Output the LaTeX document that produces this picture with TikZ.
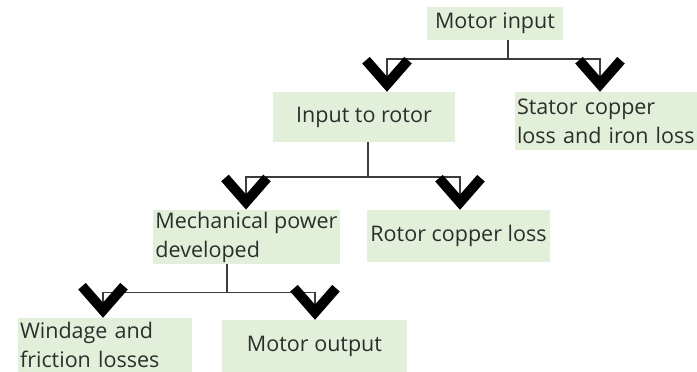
\documentclass[tikz,border=0pt]{standalone}
\usepackage{fontspec}
\setmainfont{Open Sans}
\usetikzlibrary{arrows.meta}
\definecolor{boxGreen}{RGB}{226,240,217}
\definecolor{textGray}{RGB}{45,45,45}
\definecolor{lineGray}{RGB}{60,60,60}

\begin{document}
\begin{tikzpicture}[
    x=1pt, y=-1pt,
    box/.style={rectangle, fill=boxGreen, text=textGray, inner sep=2pt, font=\fontsize{21.5}{29}\selectfont},
    conn/.style={draw=lineGray, line width=1.5pt, -{Straight Barb[length=24pt, width=42pt, line width=10pt, color=black]}}
]
    \useasboundingbox (0,0) rectangle (697,372);

    \node[box, minimum width=136pt, minimum height=33pt] (motorin) at (495,23.5) {Motor input};
    \node[box, minimum width=182pt, minimum height=50pt] (rotorin) at (364,117) {Input to rotor};
    \node[box, text width=178pt, align=left, minimum height=58pt] (stator) at (606,121) {Stator copper\\loss and iron loss};
    \node[box, align=left, minimum width=185pt, minimum height=50pt] (mech) at (246.5,237) {Mechanical power\\developed\hfill\null};
    \node[box, minimum width=183pt, minimum height=52pt] (rotorcu) at (458.5,236) {Rotor copper loss};
    \node[box, text width=170pt, align=left, minimum height=54pt] (windage) at (105,345) {Windage and\\friction losses};
    \node[box, minimum width=185pt, minimum height=52pt] (motorout) at (314.5,346) {Motor output};

    \draw[conn] ([xshift=13pt]motorin.south) -- ++(0,19) -| ([xshift=23pt]rotorin.north);
    \draw[conn] ([xshift=13pt]motorin.south) -- ++(0,19) -| ([xshift=-6pt]stator.north);
    \draw[conn] ([xshift=4pt]rotorin.south) -- ++(0,35) -| ([xshift=-0.5pt]mech.north);
    \draw[conn] ([xshift=4pt]rotorin.south) -- ++(0,35) -| ([xshift=1.5pt]rotorcu.north);
    \draw[conn] ([xshift=-19.5pt]mech.south) -- ++(0,28) -| ([xshift=-2pt]windage.north);
    \draw[conn] ([xshift=-19.5pt]mech.south) -- ++(0,28) -| ([xshift=0.5pt]motorout.north);
\end{tikzpicture}
\end{document}
